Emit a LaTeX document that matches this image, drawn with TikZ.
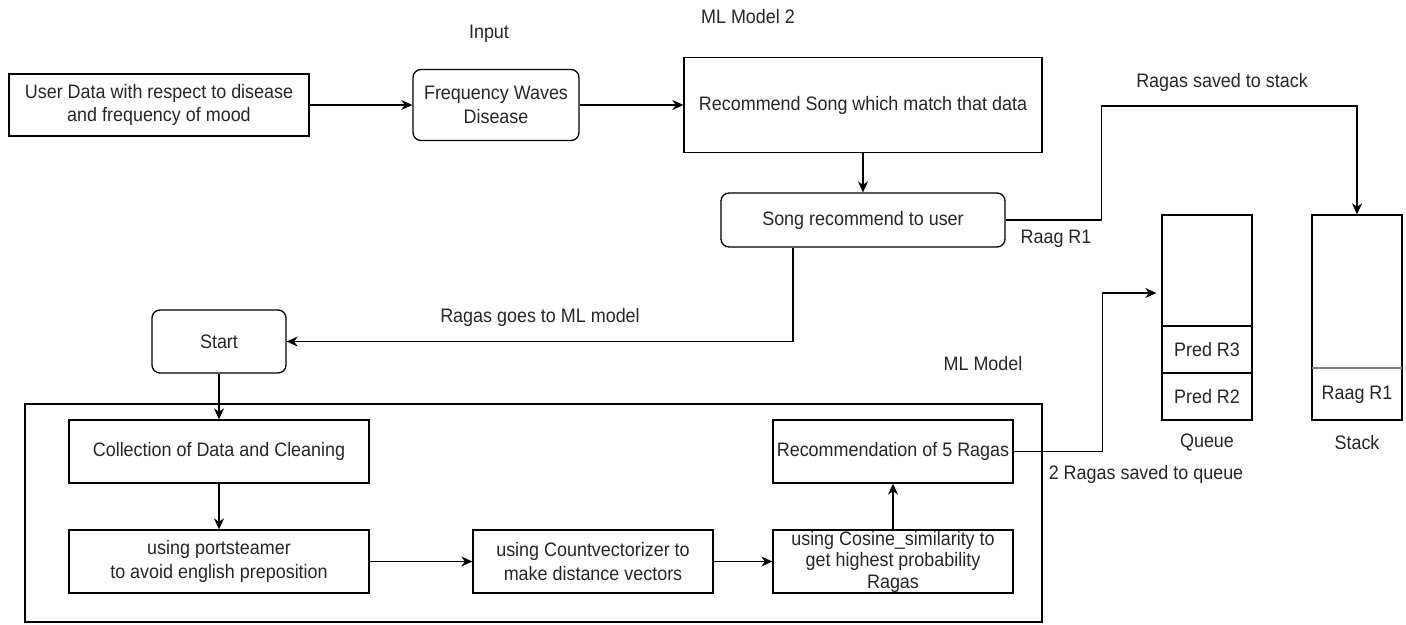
\documentclass[tikz,border=0pt]{standalone}
\usepackage{fontspec}
\setmainfont{Liberation Sans}[FakeStretch=0.92]
\usetikzlibrary{arrows.meta,calc}
\begin{document}
\begin{tikzpicture}[x=1pt,y=-1pt,
  every node/.style={font=\fontsize{19.5}{23.5}\selectfont, text=black!85},
  box/.style={draw, line width=1.3pt, inner sep=0pt, align=center},
  rbox/.style={box, rounded corners=8pt},
  cell/.style={box, minimum width=90},
  arr/.style={line width=1.3pt, -{Stealth[length=11pt,width=10pt,inset=3.5pt]}},
  lbl/.style={inner sep=0pt}]
\useasboundingbox (0,0) rectangle (1406,624);

% top row
\node[box, minimum width=300, minimum height=62] (user) at (159,105) {User Data with respect to disease\\and frequency of mood};
\node[rbox, minimum width=166, minimum height=71] (freq) at (496,105) {Frequency Waves\\Disease};
\node[box, minimum width=358, minimum height=95] (rec) at (863,105) {Recommend Song which match that data};
\node[rbox, minimum width=284, minimum height=54] (song) at (863,220) {Song recommend to user};

\node[lbl] (lin) at (489,34) {Input};
\node[lbl] (lml2) at (748,17) {ML Model 2};

% queue and stack
\node[cell, minimum height=111] (qtop) at (1207,270.5) {};
\node[cell, minimum height=47] (q3) at (1207,349.5) {Pred R3};
\node[cell, minimum height=47] (q2) at (1207,396.5) {Pred R2};
\node[cell, minimum height=205] (stk) at (1357,317.5) {};
\draw[black!50, line width=2.8pt] ([xshift=0.65pt]stk.west |- 0,368) -- ([xshift=-0.65pt]stk.east |- 0,368);
\node[lbl] (r1) at (1357,395) {Raag R1};
\node[lbl] (lq) at (1207,443) {Queue};
\node[lbl] (ls) at (1357,443) {Stack};

% ML model block
\node[lbl] (lml) at (983,364) {ML Model};
\node[box, line width=1.1pt, minimum width=1017, minimum height=218] (ml) at (533.5,513) {};
\node[rbox, minimum width=134, minimum height=63] (start) at (219,341.5) {Start};
\node[box, minimum width=300, minimum height=63] (coll) at (219,451.5) {Collection of Data and Cleaning};
\node[box, minimum width=300, minimum height=63] (port) at (219,561.5) {using portsteamer\\to avoid english preposition};
\node[box, minimum width=240, minimum height=63] (cnt) at (593,561.5) {using Countvectorizer to\\make distance vectors};
\node[box, minimum width=240, minimum height=63, font=\fontsize{19.5}{21.5}\selectfont] (cos) at (893,561.5) {using Cosine\_similarity to\\get highest probability\\Ragas};
\node[box, minimum width=240, minimum height=63] (r5) at (893,451.5) {Recommendation of 5 Ragas};

% connectors
\draw[arr] (user) -- (freq);
\draw[arr] (freq) -- (rec);
\draw[arr] (rec) -- (song);
\draw[arr] (song.east) -- ++(96,0) -- ++(0,-114) -| (stk.north);
\node[lbl] (lstk) at (1222,82) {Ragas saved to stack};
\node[lbl] (lr1) at (1056,239) {Raag R1};
\draw[arr] ([xshift=-70pt]song.south) |- (start.east);
\node[lbl] (lgo) at (540,317) {Ragas goes to ML model};
\draw[arr] (start) -- (coll);
\draw[arr] (coll) -- (port);
\draw[arr] (port) -- (cnt);
\draw[arr] (cnt) -- (cos);
\draw[arr] (cos) -- (r5);
\draw[arr, shorten >=5pt] (r5.east) -- ++(89,0) |- ([yshift=-22.5pt]qtop.west);
\node[lbl] (lq2) at (1146,474) {2 Ragas saved to queue};
\end{tikzpicture}
\end{document}
